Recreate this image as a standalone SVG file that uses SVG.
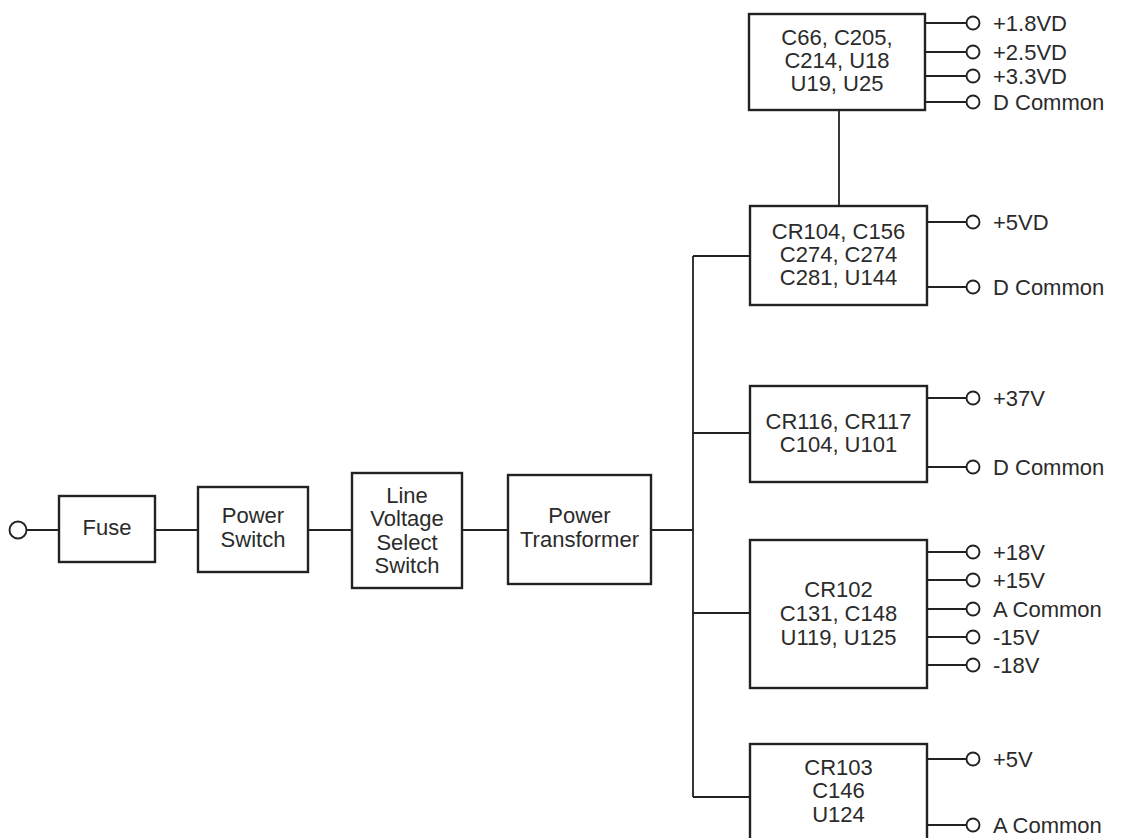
<svg xmlns="http://www.w3.org/2000/svg" width="1126" height="838" viewBox="0 0 1126 838">
<style>
.box{fill:#fff;stroke:#222;stroke-width:2.4}
.ln{fill:none;stroke:#222;stroke-width:1.8}
.term{fill:#fff;stroke:#222;stroke-width:1.9}
text{font-family:"Liberation Sans",Arial,sans-serif;font-size:22px;fill:#2b2b2b}
.c{text-anchor:middle}
</style>
<rect width="1126" height="838" fill="#fff"/>
<g id="connectors">
<path class="ln" d="M27,530H59M155,530H198M308,530H352M462,530H508M651,530H693M693,256V797M693,256H750M693,433H750M693,613H750M693,797H750M839,110V206"/>
<path class="ln" d="M925,23H966M925,52H966M925,76H966M925,102H966"/>
<path class="ln" d="M927,222H966M927,287H966"/>
<path class="ln" d="M927,398H966M927,467H966"/>
<path class="ln" d="M927,552H966M927,580H966M927,609H966M927,637H966M927,665H966"/>
<path class="ln" d="M927,759H966M927,825H966"/>
</g>
<g id="input"><circle class="term" cx="18" cy="530" r="8.5"/></g>
<g id="fuse"><rect class="box" x="59" y="496" width="96" height="66"/><text class="c" x="107" y="535">Fuse</text></g>
<g id="power-switch"><rect class="box" x="198" y="487" width="110" height="85"/><text class="c" x="253" y="523">Power</text><text class="c" x="253" y="547">Switch</text></g>
<g id="line-voltage"><rect class="box" x="352" y="473" width="110" height="115"/><text class="c" x="407" y="503">Line</text><text class="c" x="407" y="526">Voltage</text><text class="c" x="407" y="550">Select</text><text class="c" x="407" y="573">Switch</text></g>
<g id="transformer"><rect class="box" x="508" y="475" width="143" height="109"/><text class="c" x="579.5" y="523">Power</text><text class="c" x="579.5" y="547">Transformer</text></g>
<g id="reg-top"><rect class="box" x="749" y="14" width="176" height="96"/><text class="c" x="837" y="45">C66, C205,</text><text class="c" x="837" y="68">C214, U18</text><text class="c" x="837" y="91">U19, U25</text></g>
<g id="reg-5vd"><rect class="box" x="750" y="206" width="177" height="99"/><text class="c" x="838.5" y="239">CR104, C156</text><text class="c" x="838.5" y="262">C274, C274</text><text class="c" x="838.5" y="285">C281, U144</text></g>
<g id="reg-37v"><rect class="box" x="750" y="386" width="177" height="96"/><text class="c" x="838.5" y="429">CR116, CR117</text><text class="c" x="838.5" y="452">C104, U101</text></g>
<g id="reg-analog"><rect class="box" x="750" y="540" width="177" height="148"/><text class="c" x="838.5" y="597">CR102</text><text class="c" x="838.5" y="621">C131, C148</text><text class="c" x="838.5" y="645">U119, U125</text></g>
<g id="reg-5v"><rect class="box" x="750" y="744" width="177" height="110"/><text class="c" x="838.5" y="775">CR103</text><text class="c" x="838.5" y="798">C146</text><text class="c" x="838.5" y="822">U124</text></g>
<g id="outputs">
<circle class="term" cx="973" cy="23" r="6.5"/><text x="993" y="31">+1.8VD</text>
<circle class="term" cx="973" cy="52" r="6.5"/><text x="993" y="60">+2.5VD</text>
<circle class="term" cx="973" cy="76" r="6.5"/><text x="993" y="84">+3.3VD</text>
<circle class="term" cx="973" cy="102" r="6.5"/><text x="993" y="110">D Common</text>
<circle class="term" cx="973" cy="222" r="6.5"/><text x="993" y="230">+5VD</text>
<circle class="term" cx="973" cy="287" r="6.5"/><text x="993" y="295">D Common</text>
<circle class="term" cx="973" cy="398" r="6.5"/><text x="993" y="406">+37V</text>
<circle class="term" cx="973" cy="467" r="6.5"/><text x="993" y="475">D Common</text>
<circle class="term" cx="973" cy="552" r="6.5"/><text x="993" y="560">+18V</text>
<circle class="term" cx="973" cy="580" r="6.5"/><text x="993" y="588">+15V</text>
<circle class="term" cx="973" cy="609" r="6.5"/><text x="993" y="617">A Common</text>
<circle class="term" cx="973" cy="637" r="6.5"/><text x="993" y="645">-15V</text>
<circle class="term" cx="973" cy="665" r="6.5"/><text x="993" y="673">-18V</text>
<circle class="term" cx="973" cy="759" r="6.5"/><text x="993" y="767">+5V</text>
<circle class="term" cx="973" cy="825" r="6.5"/><text x="993" y="833">A Common</text>
</g>
</svg>
